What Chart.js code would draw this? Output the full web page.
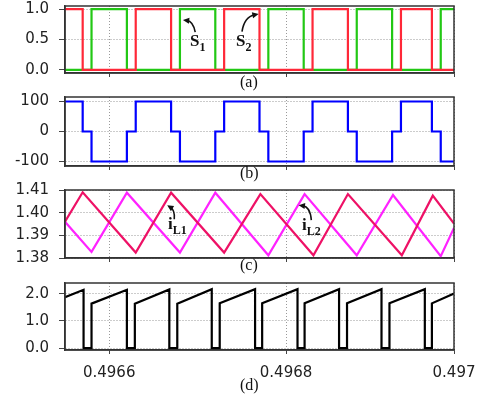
<!DOCTYPE html>
<html>
<head>
<meta charset="utf-8">
<script src="https://cdn.jsdelivr.net/npm/chart.js@4.4.0/dist/chart.umd.min.js"></script>
<style>
body { margin: 0; background: #fff; }
#wrap { position: relative; width: 480px; height: 403px; overflow: hidden; }
#wrap canvas { position: absolute; left: 0; top: 0; }
.cap { position: absolute; font-family: 'Liberation Serif', 'Times New Roman', serif; font-size: 16px; line-height: 1; color: #111; }
.lab { position: absolute; font-family: 'Liberation Serif', 'Times New Roman', serif; font-weight: bold; font-size: 17px; line-height: 1; color: #111; white-space: nowrap; }
.lab sub { font-size: 12px; vertical-align: -5px; line-height: 1; }
</style>
</head>
<body>
<div id="wrap">
  <canvas id="cA" width="480" height="403"></canvas>
  <canvas id="cB" width="480" height="403"></canvas>
  <canvas id="cC" width="480" height="403"></canvas>
  <canvas id="cD" width="480" height="403"></canvas>
  <div class="cap" style="left:240px;top:74px">(a)</div>
  <div class="cap" style="left:240px;top:165px">(b)</div>
  <div class="cap" style="left:240px;top:257px">(c)</div>
  <div class="cap" style="left:240px;top:377px">(d)</div>
  <div class="lab" style="left:190px;top:32px">S<sub>1</sub></div>
  <div class="lab" style="left:236px;top:32px">S<sub>2</sub></div>
  <div class="lab" style="left:168px;top:215px">i<sub>L1</sub></div>
  <div class="lab" style="left:302px;top:216px">i<sub>L2</sub></div>
</div>
<script>
// time axis (s)
var tMin = 0.49655, tMax = 0.49699;
var xTickValues = [0.4966, 0.4968, 0.49699];
var xTickLabels = ["0.4966", "0.4968", "0.497"];

// (a) gate signals, each level holds until the next time
var s1Times  = [0.49655, 0.49658, 0.49662, 0.49668, 0.49672, 0.49678, 0.49682, 0.49688, 0.49692, 0.496975, 0.49699];
var s1Levels = [0, 1, 0, 1, 0, 1, 0, 1, 0, 1, 1];
var s2Times  = [0.49655, 0.49657, 0.49663, 0.49667, 0.49673, 0.49677, 0.49683, 0.49687, 0.49693, 0.496965, 0.49699];
var s2Levels = [1, 0, 1, 0, 1, 0, 1, 0, 1, 0, 0];
var yTicksA = [0, 0.5, 1];
var yLabelsA = ["0.0", "0.5", "1.0"];

// (b) three level voltage
var vTimes  = [0.49655, 0.49657, 0.49658, 0.49662, 0.49663, 0.49667, 0.49668, 0.49672, 0.49673, 0.49677,
               0.49678, 0.49682, 0.49683, 0.49687, 0.49688, 0.49692, 0.49693, 0.496965, 0.496975, 0.49699];
var vLevels = [100, 0, -100, 0, 100, 0, -100, 0, 100, 0, -100, 0, 100, 0, -100, 0, 100, 0, -100, -100];
var yTicksB = [-100, 0, 100];
var yLabelsB = ["-100", "0", "100"];

// (c) inductor currents
var iL1Times  = [0.49655, 0.49657, 0.49663, 0.49667, 0.49673, 0.496771, 0.496831, 0.49687, 0.496931, 0.496966, 0.49699];
var iL1Values = [1.3960, 1.4090, 1.3824, 1.4088, 1.3824, 1.4082, 1.3812, 1.4082, 1.3812, 1.4075, 1.3952];
var iL2Times  = [0.49655, 0.49658, 0.49662, 0.49668, 0.49672, 0.49678, 0.496821, 0.49688, 0.496921, 0.496975, 0.49699];
var iL2Values = [1.3960, 1.3827, 1.4088, 1.3824, 1.4088, 1.3812, 1.4082, 1.3812, 1.4078, 1.3808, 1.3933];
var yTicksC = [1.38, 1.39, 1.40, 1.41];
var yLabelsC = ["1.38", "1.39", "1.40", "1.41"];

// (d) output current
var iTimes = [0.49655,
  0.496571, 0.496571, 0.49658, 0.49658,
  0.49662, 0.49662, 0.496629, 0.496629,
  0.496668, 0.496668, 0.496677, 0.496677,
  0.496716, 0.496716, 0.496725, 0.496725,
  0.496765, 0.496765, 0.496773, 0.496773,
  0.496813, 0.496813, 0.496821, 0.496821,
  0.49686, 0.49686, 0.496869, 0.496869,
  0.496908, 0.496908, 0.496917, 0.496917,
  0.496957, 0.496957, 0.496965, 0.496965,
  0.49699];
var iValues = [1.88,
  2.15, 0, 0, 1.64,
  2.15, 0, 0, 1.64,
  2.16, 0, 0, 1.64,
  2.17, 0, 0, 1.65,
  2.17, 0, 0, 1.65,
  2.17, 0, 0, 1.65,
  2.17, 0, 0, 1.65,
  2.17, 0, 0, 1.65,
  2.17, 0, 0, 1.65,
  2.01];
var yTicksD = [0, 1, 2];
var yLabelsD = ["0.0", "1.0", "2.0"];

Chart.defaults.font.family = "'DejaVu Sans', sans-serif";
Chart.defaults.font.size = 15;
Chart.defaults.color = "#222";

function pts(ts, vs) {
    return ts.map(function (t, i) { return {x: t, y: vs[i]}; });
}

var framePlugin = {
    id: "frame",
    afterDraw: function (chart) {
        var a = chart.chartArea, ctx = chart.ctx;
        ctx.save();
        ctx.strokeStyle = "#333";
        ctx.lineWidth = 1.5;
        ctx.strokeRect(a.left, a.top, a.right - a.left, a.bottom - a.top);
        ctx.restore();
    }
};

// curved arrows, given as [tail, control, tip] in data units
function arrowPlugin(items) {
    return {
        id: "arrows",
        afterDraw: function (chart) {
            var xs = chart.scales.x, ys = chart.scales.y, ctx = chart.ctx;
            ctx.save();
            ctx.strokeStyle = "#111";
            ctx.fillStyle = "#111";
            ctx.lineWidth = 1.6;
            items.forEach(function (a) {
                var p = a.map(function (q) { return [xs.getPixelForValue(q[0]), ys.getPixelForValue(q[1])]; });
                var ang = Math.atan2(p[2][1] - p[1][1], p[2][0] - p[1][0]);
                var L = 7;
                ctx.beginPath();
                ctx.moveTo(p[0][0], p[0][1]);
                ctx.quadraticCurveTo(p[1][0], p[1][1], p[2][0] - Math.cos(ang) * 4, p[2][1] - Math.sin(ang) * 4);
                ctx.stroke();
                ctx.beginPath();
                ctx.moveTo(p[2][0], p[2][1]);
                ctx.lineTo(p[2][0] - L * Math.cos(ang - 0.45), p[2][1] - L * Math.sin(ang - 0.45));
                ctx.lineTo(p[2][0] - L * Math.cos(ang + 0.45), p[2][1] - L * Math.sin(ang + 0.45));
                ctx.closePath();
                ctx.fill();
            });
            ctx.restore();
        }
    };
}

function panel(id, top, bottom, datasets, yMin, yMax, yTicks, yLabels, showX, arrows) {
    var xh = showX ? 40 : 0;
    return new Chart(document.getElementById(id), {
        type: "line",
        data: {datasets: datasets},
        options: {
            responsive: false,
            animation: false,
            events: [],
            layout: {padding: {top: top, bottom: 403 - bottom - xh, left: 0, right: 26}},
            plugins: {legend: {display: false}, tooltip: {enabled: false}},
            elements: {point: {radius: 0}, line: {borderWidth: 2.2, tension: 0}},
            scales: {
                x: {
                    type: "linear", min: tMin, max: tMax,
                    afterBuildTicks: function (s) {
                        s.ticks = xTickValues.map(function (v) { return {value: v}; });
                    },
                    afterFit: function (s) { s.height = xh; s.paddingLeft = 0; s.paddingRight = 0; },
                    grid: {color: "#999", tickColor: "#444", tickLength: 4, tickBorderDash: []},
                    border: {color: "#333", width: 1.5, dash: [1, 2]},
                    ticks: {
                        display: showX, padding: 10, maxRotation: 0, autoSkip: false,
                        callback: function (v, i) { return xTickLabels[i]; }
                    }
                },
                y: {
                    min: yMin, max: yMax,
                    afterBuildTicks: function (s) {
                        s.ticks = yTicks.map(function (v) { return {value: v}; });
                    },
                    afterFit: function (s) { s.width = 65; s.paddingTop = 0; s.paddingBottom = 0; },
                    grid: {color: "#999", tickColor: "#444", tickLength: 6, tickBorderDash: []},
                    border: {color: "#333", width: 1.5, dash: [1, 2]},
                    ticks: {
                        padding: 10, autoSkip: false,
                        callback: function (v, i) { return yLabels[i]; }
                    }
                }
            }
        },
        plugins: [framePlugin, arrowPlugin(arrows || [])]
    });
}

panel("cA", 6, 73, [
    {data: pts(s2Times, s2Levels), borderColor: "#ff2838", stepped: "before"},
    {data: pts(s1Times, s1Levels), borderColor: "#22c814", stepped: "before"}
], -0.05, 1.05, yTicksA, yLabelsA, false, [
    [[0.4966973, 0.62], [0.496695, 0.80], [0.4966834, 0.82]],
    [[0.4967502, 0.63], [0.4967528, 0.87], [0.496769, 0.92]]
]);

panel("cB", 97, 166, [
    {data: pts(vTimes, vLevels), borderColor: "#0000ff", stepped: "before"}
], -115, 115, yTicksB, yLabelsB, false);

panel("cC", 190, 258, [
    {data: pts(iL1Times, iL1Values), borderColor: "#ee1166"},
    {data: pts(iL2Times, iL2Values), borderColor: "#ff22ff"}
], 1.38, 1.41, yTicksC, yLabelsC, false, [
    [[0.4966736, 1.3971], [0.4966745, 1.4011], [0.4966656, 1.4033]],
    [[0.4968286, 1.3967], [0.4968275, 1.4026], [0.4968143, 1.4033]]
]);

panel("cD", 283, 350, [
    {data: pts(iTimes, iValues), borderColor: "#000000"}
], -0.07, 2.4, yTicksD, yLabelsD, true);
</script>
</body>
</html>
